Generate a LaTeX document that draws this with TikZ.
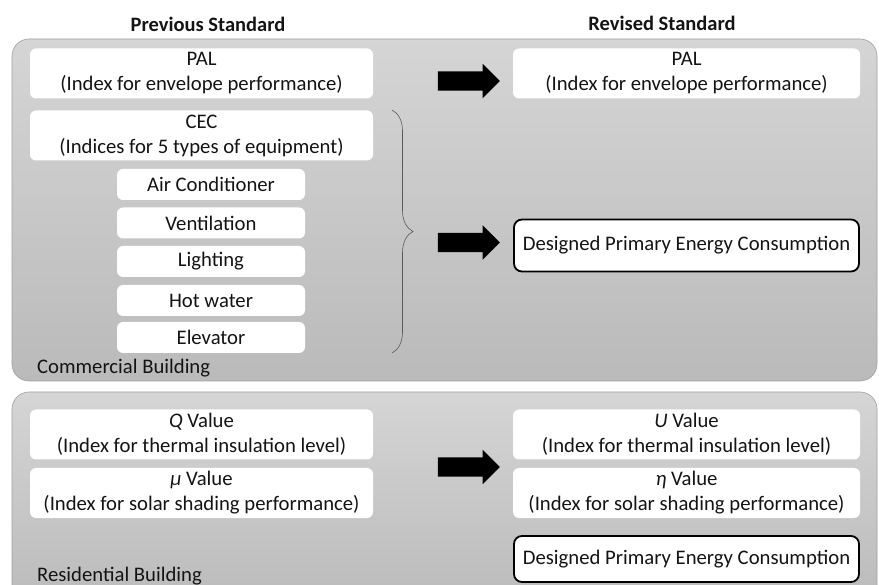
\documentclass[tikz,border=0pt]{standalone}
\usepackage{fontspec}
\setmainfont{Carlito}
\usetikzlibrary{shapes.arrows,decorations.pathreplacing}

\definecolor{panelhi}{RGB}{213,213,213}
\definecolor{panello}{RGB}{186,186,186}
\definecolor{panelline}{RGB}{160,160,160}
\definecolor{inktext}{RGB}{20,20,20}

\tikzset{
    panel/.style={draw=panelline, line width=0.6pt, rounded corners=17pt, top color=panelhi, bottom color=panello},
    idxbox/.style={fill=white, rounded corners=6pt, inner sep=0pt, align=center, text=inktext},
    widebox/.style={idxbox, minimum width=343pt, minimum height=50pt},
    revbox/.style={idxbox, minimum width=347pt, minimum height=50pt},
    subbox/.style={idxbox, minimum width=188pt, minimum height=31pt},
    keybox/.style={idxbox, draw=black, line width=1.8pt, rounded corners=8pt, minimum width=345pt},
    bigarrow/.style={single arrow, fill=black, inner xsep=0pt, inner ysep=9.5pt, minimum height=62pt, single arrow head extend=7.5pt},
    curly/.style={decorate, decoration={brace, amplitude=21pt}, draw=black!65, line width=0.6pt},
    caption/.style={anchor=west, inner sep=0pt, text=inktext},
    heading/.style={font=\fontsize{20.5}{25}\selectfont\bfseries, inner sep=0pt, text=inktext}
}

\begin{document}
\begin{tikzpicture}[x=1pt, y=-1pt, font=\fontsize{20.7}{25}\selectfont]
    \useasboundingbox (0,0) rectangle (879,585);
    \clip (0,0) rectangle (879,585);

    % column headings
    \node[heading] (hPrev) at (208,24) {Previous Standard};
    \node[heading] (hRev) at (662,23) {Revised Standard};

    % commercial building
    \path[panel] (12,39) rectangle (877,381);

    \node[widebox] (palOld) at (201.5,73.5) {PAL\\(Index for envelope performance)};
    \node[widebox] (cecOld) at (201.5,135.5) {CEC\\(Indices for 5 types of equipment)};

    \node[subbox] (aircon) at (211,184.5) {Air Conditioner};
    \node[subbox] (vent) at (211,223) {Ventilation};
    \node[subbox] (light) at (211,261.5) {Lighting};
    \node[subbox] (hotwater) at (211,300.5) {Hot water};
    \node[subbox] (elev) at (211,337.5) {Elevator};

    \coordinate (braceTop) at (392,110);
    \coordinate (braceBot) at (392,353);
    \draw[curly] (braceTop) -- (braceBot);

    \node[bigarrow] (arrPal) at (464,81) {};
    \node[bigarrow] (arrCec) at (464,242.5) {};

    \node[revbox] (palNew) at (686.5,73.5) {PAL\\(Index for envelope performance)};
    \node[keybox, minimum height=52pt] (primCom) at (686.5,245.5) {Designed Primary Energy Consumption};

    \node[caption] (capCom) at (37,368) {Commercial Building};

    % residential building
    \path[panel] (12,392) rectangle (877,610);

    \node[widebox] (qVal) at (201.5,434.5) {\textit{Q} Value\\(Index for thermal insulation level)};
    \node[widebox] (muVal) at (201.5,493) {\textit{μ} Value\\(Index for solar shading performance)};

    \node[bigarrow] (arrRes) at (464,467) {};

    \node[revbox] (uVal) at (686.5,434.5) {\textit{U} Value\\(Index for thermal insulation level)};
    \node[revbox] (etaVal) at (686.5,493) {\textit{η} Value\\(Index for solar shading performance)};
    \node[keybox, minimum height=46pt] (primRes) at (686.5,559) {Designed Primary Energy Consumption};

    \node[caption] (capRes) at (37,576) {Residential Building};
\end{tikzpicture}
\end{document}
